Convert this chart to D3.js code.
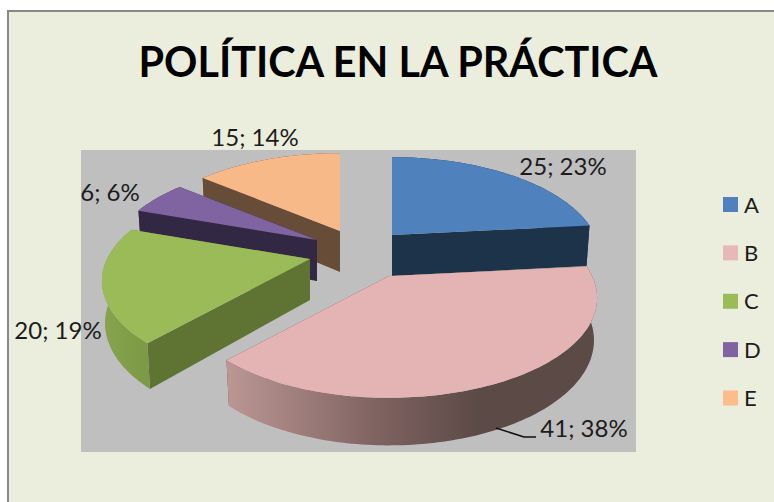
<!DOCTYPE html>
<meta charset="utf-8">
<style>
html, body { margin: 0; padding: 0; background: #fff; }
svg { display: block; }
text { font-family: Lato, "Open Sans", sans-serif; fill: #1c1c1c; }
</style>
<div id="chart"></div>
<script src="https://d3js.org/d3.v7.min.js"></script>
<script>
  var title = "POLÍTICA EN LA PRÁCTICA";
  var categories = ["A", "B", "C", "D", "E"];
  var values = [25, 41, 20, 6, 15];

  var colors = ["#4f81bd", "#e4b4b4", "#9bbb59", "#8064a2", "#f7b987"];
  var legend_colors = ["#4f81bd", "#e6b9b8", "#9bbb59", "#8064a2", "#fcbc8c"];
  var wall_colors = ["#1d3349", "#5c4a47", "#5f7432", "#332844", "#674c37"];

  var width = 774, height = 502;

  // pie layout: exploded slices, drawn back to front
  var center_x = 350, center_y = 250;
  var radius = 203, radius_y = 95, perspective = 0.22, depth = 41;
  var explode = [[42, -15], [39, 26], [-40, 9], [-33, -10], [-10, -19]];
  var draw_order = [4, 3, 0, 2, 1];
  var label_pos = [[563, 175], [584, 437], [58, 339], [110, 201], [255, 146]];

  var svg = d3.select("#chart").append("svg")
    .attr("width", width)
    .attr("height", height);

  var defs = svg.append("defs");

  function wallGradient(id, x1, x2, stops) {
    var grad = defs.append("linearGradient")
      .attr("id", id)
      .attr("gradientUnits", "userSpaceOnUse")
      .attr("x1", x1).attr("x2", x2).attr("y1", 0).attr("y2", 0);
    stops.forEach(function(s) {
      grad.append("stop").attr("offset", s[0]).attr("stop-color", s[1]);
    });
    return "url(#" + id + ")";
  }

  var outer_fill = wall_colors.slice();
  outer_fill[1] = wallGradient("wall-b", 227, 600, [[0, "#bb9794"], [0.4, "#7f6361"], [0.67, "#5c4a47"], [1, "#5c4a47"]]);
  outer_fill[2] = wallGradient("wall-c", 100, 155, [[0, "#87a44e"], [1, "#7a9843"]]);

  // chart background, only the top and left border show in the crop
  svg.append("rect")
    .attr("x", 8).attr("y", 11)
    .attr("width", width).attr("height", height)
    .attr("fill", "#ebeedd")
    .attr("stroke", "#888888")
    .attr("stroke-width", 2);

  svg.append("rect")
    .attr("x", 81).attr("y", 150)
    .attr("width", 555).attr("height", 302)
    .attr("fill", "#bfbfbf");

  svg.append("text")
    .attr("x", 398).attr("y", 77)
    .attr("text-anchor", "middle")
    .style("font-size", "41.3px")
    .style("font-weight", "bold")
    .style("fill", "#000")
    .text(title);

  var total = d3.sum(values);

  var arcs = d3.pie().sort(null)(values);

  // a point on the disc, angle clockwise from the top, with perspective
  function project(d_i, angle, r) {
    var u = Math.sin(angle), v = -Math.cos(angle);
    var s = 1 / (1 - perspective * v * r);
    return {
      x: center_x + explode[d_i][0] + radius * r * u * s,
      y: center_y + explode[d_i][1] + radius_y * r * v * s,
      s: s
    };
  }

  function lower(d_i, p) {
    var apex_x = center_x + explode[d_i][0];
    return {
      x: apex_x + (p.x - apex_x) * 0.985,
      y: p.y + depth * Math.pow(p.s, 0.6)
    };
  }

  var line = d3.line().x(function(p) { return p.x; }).y(function(p) { return p.y; });

  draw_order.forEach(function(i) {
    var a = arcs[i];
    var angles = d3.range(a.startAngle, a.endAngle, 0.02).concat([a.endAngle]);
    var rim = angles.map(function(t) { return project(i, t, 1); });
    var rim_low = rim.map(function(p) { return lower(i, p); });
    var apex = project(i, 0, 0);
    var apex_low = lower(i, apex);
    var first = rim[0], last = rim[rim.length - 1];
    var g = svg.append("g").attr("class", "slice");

    g.append("path")
      .attr("d", line([apex, first, rim_low[0], apex_low]) + "Z")
      .attr("fill", wall_colors[i]);
    g.append("path")
      .attr("d", line([apex, last, rim_low[rim_low.length - 1], apex_low]) + "Z")
      .attr("fill", wall_colors[i]);
    g.append("path")
      .attr("d", line(rim.concat(rim_low.slice().reverse())) + "Z")
      .attr("fill", outer_fill[i]);
    g.append("path")
      .attr("d", line([apex].concat(rim)) + "Z")
      .attr("fill", colors[i]);
  });

  // leader line for the B label
  svg.append("path")
    .attr("d", d3.line()([[496, 428], [524, 437], [536, 437]]))
    .attr("fill", "none")
    .attr("stroke", "#111")
    .attr("stroke-width", 1.5);

  svg.selectAll(".label")
    .data(values)
    .enter()
    .append("text")
    .attr("class", "label")
    .attr("x", function(d, i) { return label_pos[i][0]; })
    .attr("y", function(d, i) { return label_pos[i][1]; })
    .attr("text-anchor", "middle")
    .style("font-size", "24px")
    .text(function(d) { return d + "; " + Math.round(d / total * 100) + "%"; });

  var legend_y = d3.scalePoint().domain(categories).range([204.5, 398]);

  var legend = svg.selectAll(".legend")
    .data(categories)
    .enter()
    .append("g")
    .attr("class", "legend")
    .attr("transform", function(d) { return "translate(723," + legend_y(d) + ")"; });

  legend.append("rect")
    .attr("y", -7.5)
    .attr("width", 15).attr("height", 15)
    .attr("fill", function(d, i) { return legend_colors[i]; });

  legend.append("text")
    .attr("x", 21).attr("y", 8)
    .style("font-size", "22px")
    .text(function(d) { return d; });
</script>
